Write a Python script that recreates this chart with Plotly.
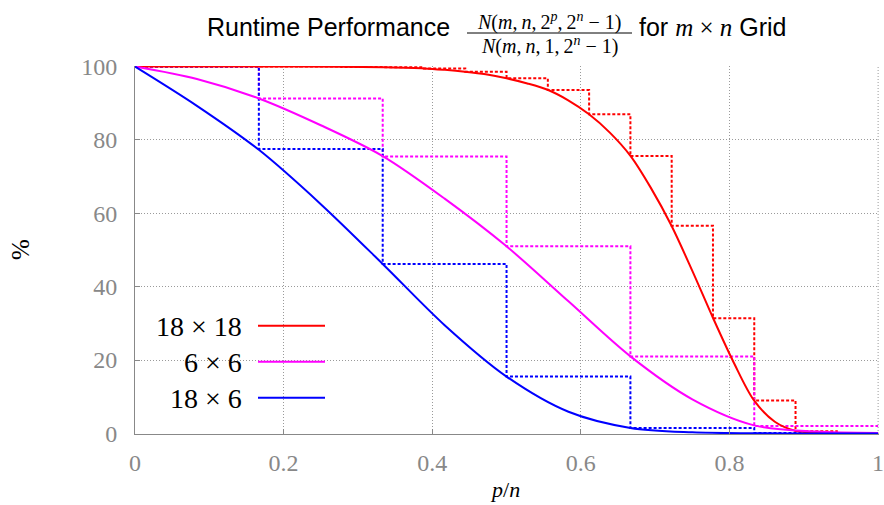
import plotly.graph_objects as go

# ---- smooth curves ----
red_x = [0, 0.111, 0.222, 0.278, 0.333, 0.389, 0.417, 0.444, 0.472, 0.5, 0.528, 0.556, 0.583, 0.611,
         0.639, 0.667, 0.694, 0.722, 0.75, 0.778, 0.806, 0.833, 0.861, 0.889, 0.917, 0.944, 1.0]
red_y = [100, 100, 100, 99.95, 99.8, 99.5, 99.1, 98.6, 97.9, 96.8, 95.4, 93.6, 90.8, 87.0,
         82.0, 75.6, 67.0, 56.6, 44.3, 31.4, 19.2, 9.0, 3.2, 0.7, 0.15, 0.03, 0.0]

mag_x = [0, 0.0833, 0.1667, 0.25, 0.3333, 0.4167, 0.5, 0.5833, 0.6667, 0.75, 0.8333, 0.9167, 1.0]
mag_y = [100, 96.6, 91.3, 84.0, 75.6, 64.0, 51.0, 36.0, 21.0, 9.3, 2.2, 0.5, 0.1]

blue_x = [0, 0.0833, 0.1667, 0.25, 0.3333, 0.4167, 0.5, 0.5833, 0.6667, 0.75, 0.8333, 0.9167, 1.0]
blue_y = [100, 89.3, 77.3, 62.5, 46.2, 29.5, 15.5, 5.9, 1.5, 0.3, 0.05, 0.0, 0.0]

# ---- step (dotted) series: one value per interval [k/n, (k+1)/n] ----
red_n = 18
red_steps = [100, 100, 100, 100, 99.98, 99.9, 99.8, 99.5, 98.6, 96.8, 93.6, 87.0, 75.6, 56.6, 31.4,
             9.0, 0.6, 0.1]
mag_n = 6
mag_steps = [100, 91.3, 75.5, 51.0, 21.0, 2.0]
blue_n = 6
blue_steps = [100, 77.5, 46.2, 15.5, 1.5, 0.1]

legend_labels = ["18 × 18", "6 × 6", "18 × 6"]
colors = ["#ff0000", "#ff00ff", "#0000ff"]

x_ticks = [0, 0.2, 0.4, 0.6, 0.8, 1]
x_tick_text = ["0", "0.2", "0.4", "0.6", "0.8", "1"]
y_ticks = [0, 20, 40, 60, 80, 100]
y_tick_text = ["0", "20", "40", "60", "80", "100"]

W, H = 884, 505
PLOT_L, PLOT_R, PLOT_T, PLOT_B = 135, 879, 66, 434          # pixels of the plot area
L, T, R, B = PLOT_L, PLOT_T, W - PLOT_R, H - PLOT_B


def px(xp):  # pixel -> paper x
    return (xp - PLOT_L) / (PLOT_R - PLOT_L)


def py(yp):  # pixel -> paper y
    return (PLOT_B - yp) / (PLOT_B - PLOT_T)


def step_xy(n, vals):
    xs = [k / n for k in range(n + 1)]
    ys = list(vals) + [vals[-1]]
    return xs, ys


fig = go.Figure()

dot = "3px,2px"
for (n, vals), c in zip([(red_n, red_steps), (mag_n, mag_steps), (blue_n, blue_steps)], colors):
    sx, sy = step_xy(n, vals)
    fig.add_trace(go.Scatter(x=sx, y=sy, mode="lines", line=dict(color=c, width=2, dash=dot, shape="hv"),
                             showlegend=False, hoverinfo="skip"))

for (xs, ys), c in zip([(red_x, red_y), (mag_x, mag_y), (blue_x, blue_y)], colors):
    fig.add_trace(go.Scatter(x=xs, y=ys, mode="lines",
                             line=dict(color=c, width=2, shape="spline", smoothing=0.9),
                             showlegend=False, hoverinfo="skip"))

grid_color = "#9a9a9a"
tick_font = dict(family="Liberation Serif", size=24, color="#888888")
axis_common = dict(showgrid=True, gridcolor=grid_color, griddash="1px,2px", gridwidth=1,
                   showline=True, linecolor="#888888", linewidth=1,
                   ticks="inside", ticklen=5, tickcolor="#888888",
                   zeroline=False, tickfont=tick_font, mirror=False, ticklabeloverflow="allow")

fig.update_xaxes(range=[0, 1.0012], tickvals=x_ticks, ticktext=x_tick_text, ticklabelstandoff=7,
                 **axis_common)
fig.update_yaxes(range=[-0.15, 100.15], tickvals=y_ticks, ticktext=y_tick_text, ticklabelstandoff=12,
                 **axis_common)

shapes = []
# grid line at the right edge (x = 1)
shapes.append(dict(type="line", xref="x", yref="paper", x0=x_ticks[-1], x1=x_ticks[-1], y0=0, y1=1,
                   line=dict(color=grid_color, width=1, dash="1px,2px"), layer="between"))
# opaque key box (hides the grid behind the key)
shapes.append(dict(type="rect", xref="paper", yref="paper", x0=px(172), x1=px(338), y0=py(417), y1=py(308),
                   fillcolor="white", line=dict(width=0), layer="between"))
annotations = []
for i, (lab, c) in enumerate(zip(legend_labels, colors)):
    yy = 325.7 + 36 * i
    shapes.append(dict(type="line", xref="paper", yref="paper", x0=px(258), x1=px(325), y0=py(yy), y1=py(yy),
                       line=dict(color=c, width=2)))
    annotations.append(dict(text=lab, xref="paper", yref="paper", x=px(244), y=py(yy + 1), xanchor="right",
                            yanchor="middle", showarrow=False,
                            font=dict(family="Liberation Serif", size=28, color="black")))

# title built from pieces
sans = "Liberation Sans"
serif = "Liberation Serif"
annotations.append(dict(text="Runtime Performance", xref="paper", yref="paper", x=px(452), y=py(27),
                        xanchor="right", yanchor="middle", showarrow=False,
                        font=dict(family=sans, size=25, color="black")))
num = "<i>N</i>(<i>m</i>,\u2009<i>n</i>,\u20092<sup><i>p</i></sup>,\u20092<sup><i>n</i></sup> − 1)"
den = "<i>N</i>(<i>m</i>,\u2009<i>n</i>,\u20091,\u20092<sup><i>n</i></sup> − 1)"
annotations.append(dict(text=num, xref="paper", yref="paper", x=px(549), y=py(21), xanchor="center",
                        yanchor="middle", showarrow=False, font=dict(family=serif, size=20, color="black")))
annotations.append(dict(text=den, xref="paper", yref="paper", x=px(549), y=py(46), xanchor="center",
                        yanchor="middle", showarrow=False, font=dict(family=serif, size=20, color="black")))
shapes.append(dict(type="line", xref="paper", yref="paper", x0=px(467), x1=px(632), y0=py(33), y1=py(33),
                   line=dict(color="black", width=1)))
annotations.append(dict(text="for <span style='font-family:Liberation Serif'><i>m</i> × <i>n</i></span> Grid",
                        xref="paper", yref="paper", x=px(637), y=py(27), xanchor="left", yanchor="middle",
                        showarrow=False, font=dict(family=sans, size=25, color="black")))

# axis titles
annotations.append(dict(text="<i>p</i>/<i>n</i>", xref="paper", yref="paper", x=px(505), y=py(489),
                        xanchor="center", yanchor="middle", showarrow=False,
                        font=dict(family=serif, size=22, color="black")))
annotations.append(dict(text="%", xref="paper", yref="paper", x=px(20), y=py(250), textangle=-90,
                        xanchor="center", yanchor="middle", showarrow=False,
                        font=dict(family=serif, size=25, color="black")))

fig.update_layout(width=W, height=H, margin=dict(l=L, r=R, t=T, b=B, autoexpand=False),
                  paper_bgcolor="white", plot_bgcolor="white", showlegend=False,
                  shapes=shapes, annotations=annotations)

fig.write_html("out.html", config={"displayModeBar": False},
               post_script="document.body.style.margin='0px';document.body.style.overflow='hidden';")
